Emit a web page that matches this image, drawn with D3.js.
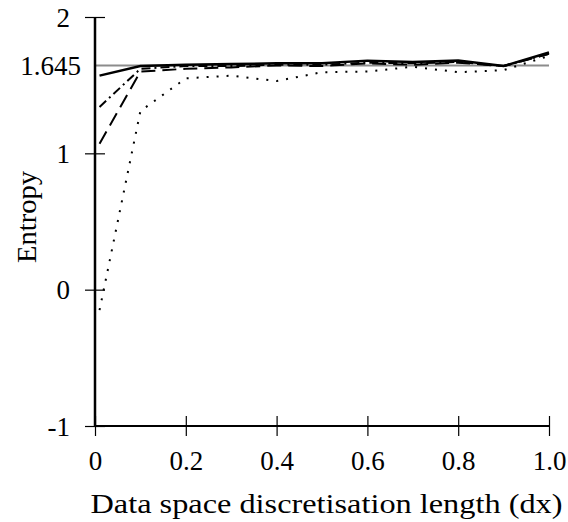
<!DOCTYPE html>
<html>
<head>
<meta charset="utf-8">
<script src="https://cdn.jsdelivr.net/npm/d3@7"></script>
<style>
  body { margin: 0; background: white; }
  text { font-family: "Liberation Serif", "Times New Roman", serif; fill: black; }
</style>
</head>
<body>
<div id="chart"></div>
<script>
// Data.
const dx = [0.01, 0.1, 0.2, 0.3, 0.4, 0.5, 0.6, 0.7, 0.8, 0.9, 1.0];
const entropySolid   = [1.57, 1.64, 1.65, 1.655, 1.66, 1.66, 1.68, 1.67, 1.68, 1.64, 1.74];
const entropyDashDot = [1.34, 1.62, 1.64, 1.64, 1.65, 1.65, 1.665, 1.66, 1.67, 1.64, 1.73];
const entropyDashed  = [1.07, 1.60, 1.62, 1.63, 1.645, 1.64, 1.66, 1.65, 1.665, 1.64, 1.73];
const entropyDotted  = [-0.15, 1.31, 1.55, 1.57, 1.53, 1.595, 1.60, 1.635, 1.595, 1.61, 1.715];
const refEntropy = 1.645;

const xTicks = [0, 0.2, 0.4, 0.6, 0.8, 1.0];
const xTickLabels = ["0", "0.2", "0.4", "0.6", "0.8", "1.0"];
const yTicks = [-1, 0, 1, 2];
const yTickLabels = ["-1", "0", "1", "2"];

const series = [
	{name: "dotted",  values: entropyDotted,  width: 2,   dash: "2,8"},
	{name: "dashed",  values: entropyDashed,  width: 2,   dash: "14,7"},
	{name: "dashdot", values: entropyDashDot, width: 2,   dash: "9,4,2,4"},
	{name: "solid",   values: entropySolid,   width: 2.5, dash: null},
];

const W = 568, H = 522;
const fs = 27;

let svg = d3.select("#chart").append("svg")
  .attr("width", W).attr("height", H);

let x = d3.scaleLinear().domain([0, 1]).range([95, 549]);
let y = d3.scaleLinear().domain([-1, 2]).range([426, 17]);

// Reference line at 1.645.
svg.append("line")
  .attr("x1", x(0)).attr("x2", x(1))
  .attr("y1", y(refEntropy)).attr("y2", y(refEntropy))
  .attr("stroke", "#8c8c8c").attr("stroke-width", 2);

svg.append("text")
  .attr("x", 81).attr("y", y(refEntropy))
  .attr("dy", "0.34em")
  .attr("text-anchor", "end")
  .attr("font-size", fs)
  .text("1.645");

// Data lines.
let line = d3.line()
  .x((d, i) => x(dx[i]))
  .y(d => y(d));

svg.append("g").attr("class", "data")
  .selectAll("path")
  .data(series)
  .enter()
  .append("path")
	.attr("d", d => line(d.values))
	.attr("fill", "none")
	.attr("stroke", "black")
	.attr("stroke-width", d => d.width)
	.attr("stroke-dasharray", d => d.dash);

// X axis, ticks crossing the axis line.
let xAxis = svg.append("g")
  .attr("transform", `translate(0,${y(-1)})`)
  .call(d3.axisBottom(x).tickValues(xTicks).tickSize(10).tickFormat((d, i) => xTickLabels[i]));
xAxis.select(".domain").remove();
xAxis.selectAll(".tick line").attr("y1", -10).attr("stroke", "black").attr("stroke-width", 1.2);
xAxis.selectAll(".tick text")
  .attr("y", 44).attr("dy", 0)
  .attr("font-size", fs)
  .attr("font-family", null);
xAxis.append("line")
  .attr("x1", x(0)).attr("x2", x(1))
  .attr("stroke", "black").attr("stroke-width", 2);

// Y axis.
let yAxis = svg.append("g")
  .attr("transform", `translate(${x(0)},0)`)
  .call(d3.axisLeft(y).tickValues(yTicks).tickSize(10).tickFormat((d, i) => yTickLabels[i]));
yAxis.select(".domain").remove();
yAxis.selectAll(".tick line").attr("x1", 10).attr("stroke", "black").attr("stroke-width", 1.2);
yAxis.selectAll(".tick text")
  .attr("x", -25).attr("dy", "0.34em")
  .attr("font-size", fs)
  .attr("font-family", null);
yAxis.append("line")
  .attr("y1", y(-1)).attr("y2", y(2))
  .attr("stroke", "black").attr("stroke-width", 2.5);

// Axis titles. The reference face is wider than Times, so stretch to its measured width.
svg.append("text")
  .attr("x", 326.5)
  .attr("y", 513)
  .attr("text-anchor", "middle")
  .attr("font-size", fs)
  .attr("textLength", 472)
  .attr("lengthAdjust", "spacingAndGlyphs")
  .text("Data space discretisation length (dx)");

svg.append("text")
  .attr("transform", `translate(36,217) rotate(-90)`)
  .attr("text-anchor", "middle")
  .attr("font-size", fs)
  .attr("textLength", 92)
  .attr("lengthAdjust", "spacingAndGlyphs")
  .text("Entropy");
</script>
</body>
</html>
